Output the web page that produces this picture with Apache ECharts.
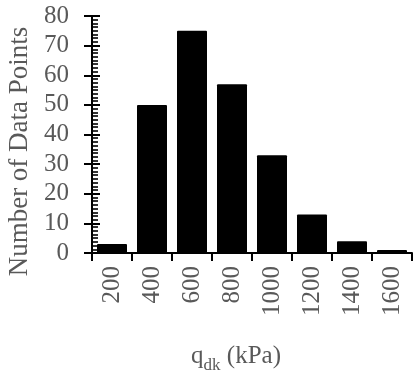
<!DOCTYPE html>
<html>
<head>
<meta charset="utf-8">
<script src="https://cdn.jsdelivr.net/npm/echarts@6/dist/echarts.min.js"></script>
<style>
  html, body { margin: 0; padding: 0; background: #fff; }
  #chart { width: 416px; height: 370px; }
</style>
</head>
<body>
<div id="chart"></div>
<script>
// Bearing capacity bins (kPa) and count of data points per bin
const categories = ['200', '400', '600', '800', '1000', '1200', '1400', '1600'];
const counts = [3, 50, 75, 57, 33, 13, 4, 1];
const yMin = 0;
const yMax = 80;
const yStep = 10;

const FONT = 'Liberation Serif';
const TEXT = '#595959';

const chart = echarts.init(document.getElementById('chart'), null, { renderer: 'canvas' });

const yBase = {
  type: 'value',
  min: yMin,
  max: yMax,
  interval: yStep,
  position: 'left',
  splitLine: { show: false },
  axisLine: { show: true, lineStyle: { color: '#000', width: 2 } }
};

chart.setOption({
  animation: false,
  backgroundColor: '#fff',
  grid: { left: 92, right: 4, top: 16, bottom: 117, containLabel: false, outerBoundsMode: 'none' },
  xAxis: {
    type: 'category',
    data: categories,
    axisLine: { show: true, lineStyle: { color: '#000', width: 2 } },
    axisTick: { show: true, alignWithLabel: false, inside: false, length: 8, lineStyle: { color: '#000', width: 2 } },
    axisLabel: {
      rotate: 90,
      margin: 13,
      fontFamily: FONT,
      fontSize: 25,
      color: TEXT
    },
    name: '{q|q}{sub|dk}{u| (kPa)}',
    nameLocation: 'middle',
    nameGap: 86,
    nameTextStyle: {
      padding: [0, 32, 0, 0],
      rich: {
        q: { fontFamily: FONT, fontSize: 25, color: TEXT, lineHeight: 30, verticalAlign: 'bottom' },
        sub: { fontFamily: FONT, fontSize: 17, color: TEXT, lineHeight: 30, verticalAlign: 'bottom', padding: [0, 0, -5, 0] },
        u: { fontFamily: FONT, fontSize: 25, color: TEXT, lineHeight: 30, verticalAlign: 'bottom' }
      }
    }
  },
  yAxis: [
    Object.assign({}, yBase, {
      axisTick: { show: true, inside: false, length: 8, lineStyle: { color: '#000', width: 2 } },
      axisLabel: { margin: 23, fontFamily: FONT, fontSize: 25, color: TEXT },
      name: 'Number of Data Points',
      nameLocation: 'middle',
      nameGap: 58,
      nameTextStyle: { fontFamily: FONT, fontSize: 27, color: TEXT, padding: [0, 34, 0, 0] }
    }),
    // inner ticks: major marks cross the axis, minor marks form a ladder on the inside
    Object.assign({}, yBase, {
      axisTick: { show: true, inside: true, length: 8, lineStyle: { color: '#000', width: 2 } },
      minorTick: { show: true, splitNumber: 8, length: 6, lineStyle: { color: '#000', width: 1.6 } },
      axisLabel: { show: false }
    })
  ],
  series: [{
    type: 'bar',
    data: counts,
    yAxisIndex: 0,
    barCategoryGap: '25%',
    itemStyle: { color: '#000', borderRadius: 1 },
    z: 1
  }]
});
</script>
</body>
</html>
